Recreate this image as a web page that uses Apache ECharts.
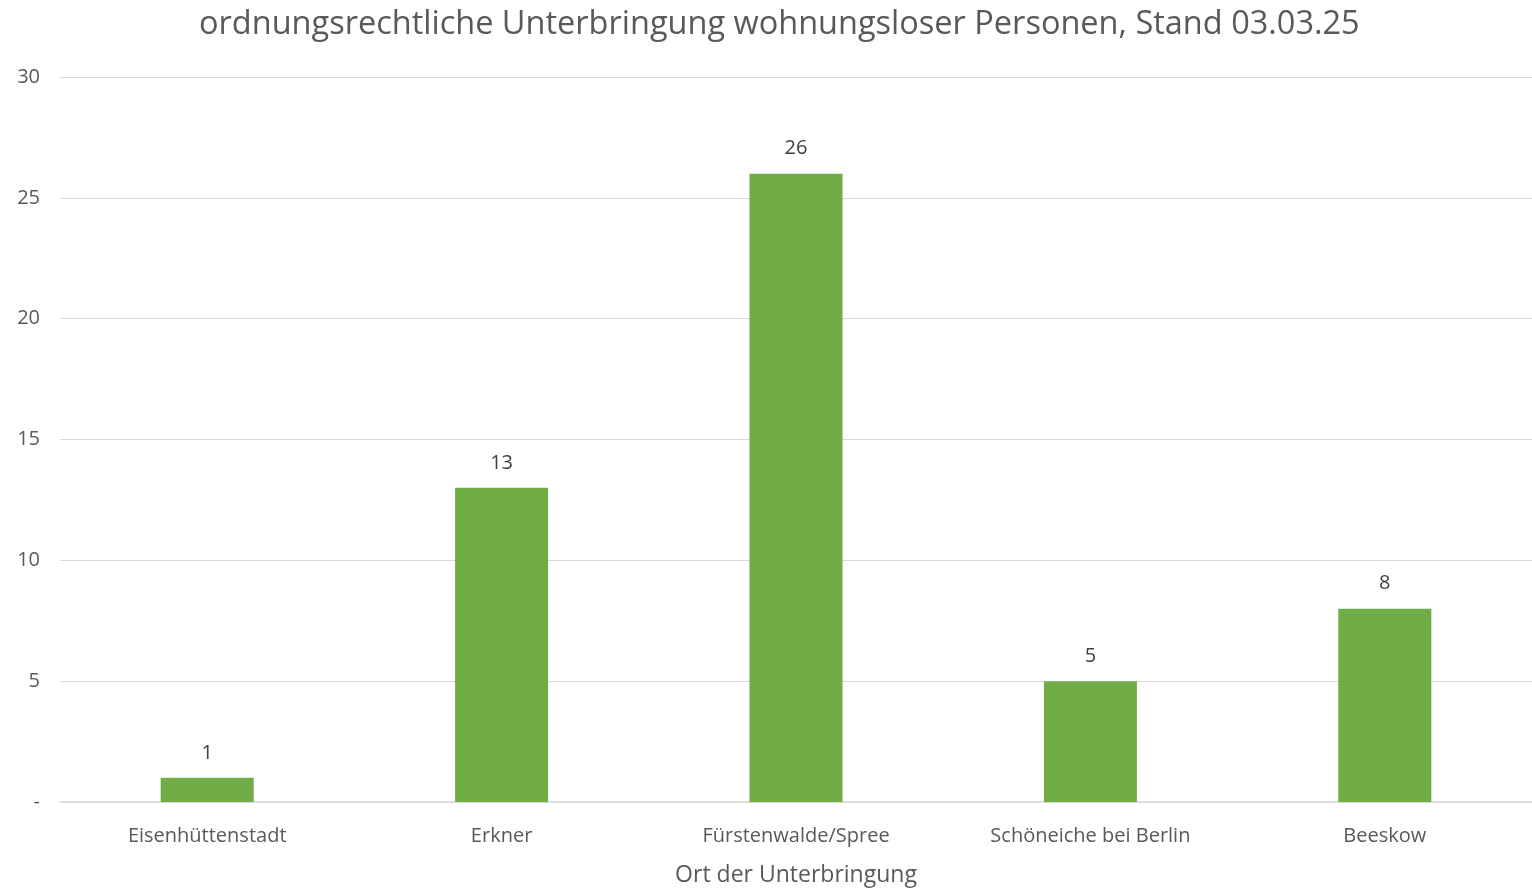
<!DOCTYPE html>
<html>
<head>
<meta charset="utf-8">
<script src="https://cdn.jsdelivr.net/npm/echarts@6/dist/echarts.min.js"></script>
<style>
  html, body { margin: 0; padding: 0; background: #fff; }
  #chart { width: 1532px; height: 888px; }
</style>
</head>
<body>
<div id="chart"></div>
<script>
// Orte und Anzahl Personen
const categories = ['Eisenhüttenstadt', 'Erkner', 'Fürstenwalde/Spree', 'Schöneiche bei Berlin', 'Beeskow']
const values = [1, 13, 26, 5, 8]
const yTicks = [0, 5, 10, 15, 20, 25, 30]

const textColor = '#595959'
const gridColor = '#d9d9d9'
const barColor = '#70AD47'
const font = '"Open Sans", "Noto Sans", sans-serif'

const chart = echarts.init(document.getElementById('chart'))
chart.setOption({
  animation: false,
  textStyle: { fontFamily: font },
  title: {
    text: 'ordnungsrechtliche Unterbringung wohnungsloser Personen, Stand 03.03.25',
    left: 194,
    top: 3,
    textStyle: {
      color: textColor,
      fontFamily: font,
      fontWeight: 'normal',
      fontSize: 32.5
    }
  },
  grid: {
    left: 60,
    right: 0,
    top: 77,
    bottom: 86,
    containLabel: false,
    outerBoundsMode: 'none'
  },
  xAxis: {
    type: 'category',
    data: categories,
    name: 'Ort der Unterbringung',
    nameLocation: 'middle',
    nameGap: 62,
    nameTextStyle: { color: textColor, fontSize: 23, fontFamily: font },
    axisLine: { lineStyle: { color: gridColor, width: 1.5 } },
    axisTick: { show: false },
    axisLabel: { color: textColor, fontSize: 20, margin: 24, fontFamily: font }
  },
  yAxis: {
    type: 'value',
    min: yTicks[0],
    max: yTicks[yTicks.length - 1],
    interval: 5,
    axisLine: { show: false },
    axisTick: { show: false },
    axisLabel: {
      color: textColor,
      fontSize: 20,
      margin: 20,
      fontFamily: font,
      formatter: v => (v === 0 ? '-' : String(v))
    },
    splitLine: { lineStyle: { color: gridColor, width: 1 } }
  },
  series: [{
    type: 'bar',
    data: values,
    barWidth: '31.6%',
    itemStyle: { color: barColor },
    label: {
      show: true,
      position: 'top',
      distance: 15,
      color: '#404040',
      fontSize: 20,
      fontFamily: font
    }
  }]
})
</script>
</body>
</html>
